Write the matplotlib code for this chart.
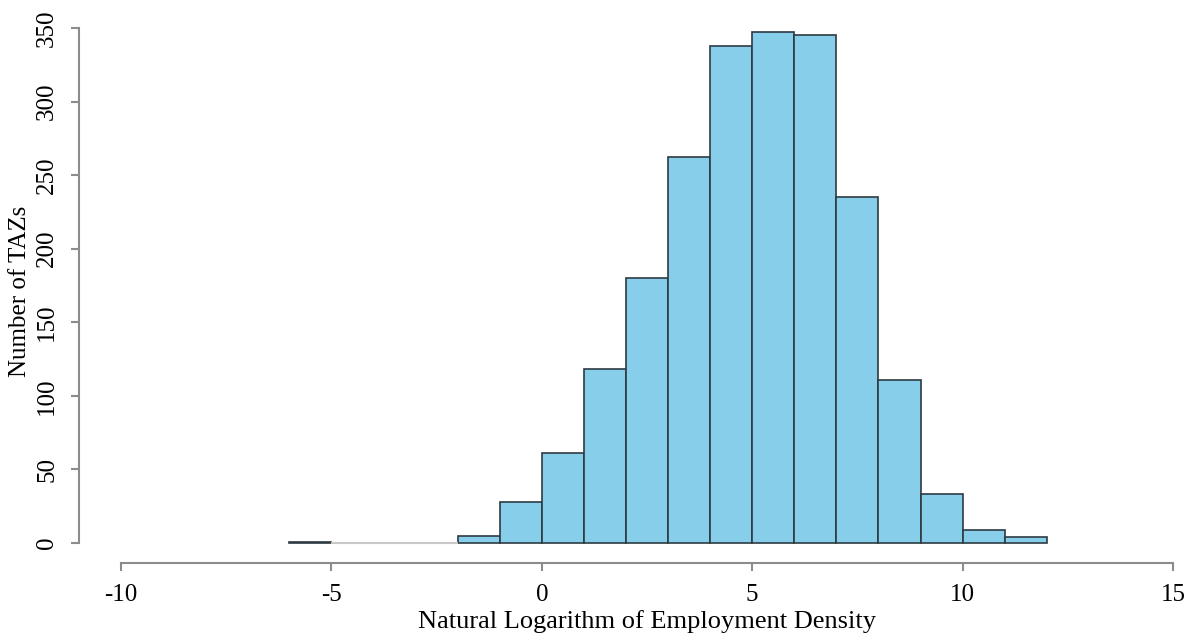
import numpy as np
import matplotlib
matplotlib.use('Agg')
from matplotlib import pyplot as plt

# histogram of log employment density, unit-width bins
bin_edges = list(range(-6, 13))
counts = [1, 0, 0, 0, 5, 28, 61, 118, 180, 262, 338, 347, 345, 235, 111, 33, 9, 4]

x_ticks = [-10, -5, 0, 5, 10, 15]
y_ticks = [0, 50, 100, 150, 200, 250, 300, 350]

plt.rcParams['font.family'] = ['Liberation Serif', 'DejaVu Serif']

W, H, DPI = 1196, 640, 100
fig = plt.figure(figsize=(W / DPI, H / DPI), dpi=DPI)

# axes box: x from -10..15 spans px 121..1173, bottom at px 563
left_px, right_px, top_px, bottom_px = 121, 1173, 20, 563
ax = fig.add_axes([left_px / W, 1 - bottom_px / H,
                   (right_px - left_px) / W, (bottom_px - top_px) / H])

px_per_unit = (543 - 28) / 350.0
ax.set_xlim(-10, 15)
ax.set_ylim(-(bottom_px - 543) / px_per_unit, 350 + (28 - top_px) / px_per_unit)

lefts = np.array(bin_edges[:-1])
heights = np.array(counts)
nonzero = heights > 0
ax.bar(lefts[nonzero], heights[nonzero], width=1, align='edge',
       color='#87CEEB', edgecolor='#2e3a42', linewidth=1.2)
# empty bins show only a faint baseline
ax.bar(lefts[~nonzero], heights[~nonzero], width=1, align='edge',
       color='none', edgecolor='#c8c8c8', linewidth=1.5)

for s in ['top', 'right']:
    ax.spines[s].set_visible(False)
axis_col = '#8c8c8c'
ax.spines['left'].set_position(('outward', (left_px - 79) * 72 / DPI))
ax.spines['left'].set_bounds(0, 350)
ax.spines['bottom'].set_bounds(-10, 15)
for s in ['left', 'bottom']:
    ax.spines[s].set_color(axis_col)
    ax.spines[s].set_linewidth(1.5)

ax.set_xticks(x_ticks)
ax.set_xticklabels([str(t) for t in x_ticks])
ax.set_yticks(y_ticks)
ax.set_yticklabels([str(t) for t in y_ticks], rotation=90, va='center')
ax.tick_params(axis='both', colors=axis_col, labelcolor='black',
               labelsize=18, length=6, width=1.5, pad=9)

ax.set_xlabel('Natural Logarithm of Employment Density', fontsize=19, labelpad=3)
ax.set_ylabel('Number of TAZs', fontsize=18, labelpad=4)

fig.savefig('out.png', dpi=DPI)
